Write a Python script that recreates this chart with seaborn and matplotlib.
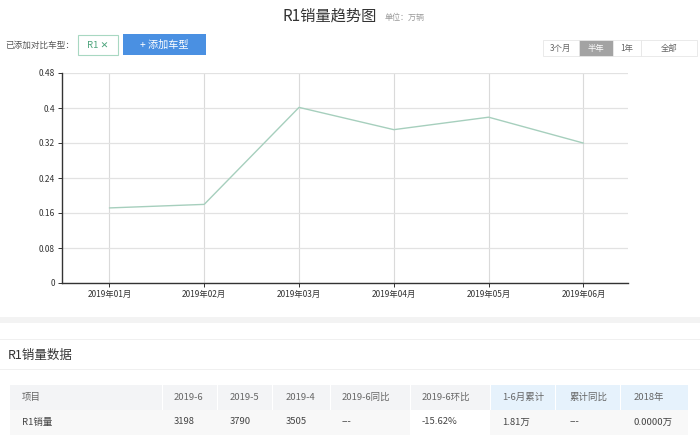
import matplotlib
matplotlib.use("Agg")
import matplotlib.pyplot as plt
import seaborn as sns
import pandas as pd
from matplotlib.patches import Rectangle

# ---- data ----
months = ["2019年01月", "2019年02月", "2019年03月", "2019年04月", "2019年05月", "2019年06月"]
sales = [0.1716, 0.1797, 0.4014, 0.3505, 0.3790, 0.3198]
yticks = [0, 0.08, 0.16, 0.24, 0.32, 0.4, 0.48]
ytick_labels = ["0", "0.08", "0.16", "0.24", "0.32", "0.4", "0.48"]
table_header = ["项目", "2019-6", "2019-5", "2019-4", "2019-6同比", "2019-6环比", "1-6月累计", "累计同比", "2018年"]
table_row = ["R1销量", "3198", "3790", "3505", "---", "-15.62%", "1.81万", "---", "0.0000万"]
range_buttons = ["3个月", "半年", "1年", "全部"]

sns.set_theme(style="white")
FAM = ["Noto Sans CJK SC", "DejaVu Sans"]
plt.rcParams["font.family"] = FAM

W, H = 700, 438
fig = plt.figure(figsize=(7, 4.38), dpi=100)
fig.patch.set_facecolor("white")

def fx(x):
    return x / W

def fy(y):
    return 1 - y / H

def rect(x0, y0, x1, y1, fc, ec="none", lw=0.8):
    fig.patches.append(Rectangle((fx(x0), fy(y1)), fx(x1) - fx(x0), fy(y0) - fy(y1),
                                 transform=fig.transFigure, facecolor=fc, edgecolor=ec,
                                 linewidth=lw, zorder=0))

def txt(x, y, s, size, color, ha="left", va="center", weight="normal"):
    fig.text(fx(x), fy(y), s, fontsize=size, color=color, ha=ha, va=va,
             family=FAM, weight=weight)

# ---- header ----
txt(283, 16, "R1销量趋势图", 11, "#333333")
txt(385, 17, "单位：万辆", 5.8, "#999999")
txt(5, 45, "已添加对比车型：", 6.2, "#555555")
rect(78, 35, 118, 55, "white", ec="#a8d8c2", lw=0.8)
txt(98, 45, "R1 ✕", 6.8, "#4aa37a", ha="center")
rect(123, 34, 206, 55, "#4a90e2")
txt(164.5, 44.5, "+ 添加车型", 7.3, "white", ha="center")

bx = [543, 579, 613, 641, 697]
for i, lab in enumerate(range_buttons):
    if i == 1:
        rect(bx[i], 40, bx[i + 1], 56, "#a3a3a3", ec="#e6e6e6", lw=0.6)
        c = "white"
    else:
        rect(bx[i], 40, bx[i + 1], 56, "white", ec="#e6e6e6", lw=0.6)
        c = "#666666"
    txt((bx[i] + bx[i + 1]) / 2, 48, lab, 6, c, ha="center")

# ---- chart ----
ax = fig.add_axes([fx(62), fy(283), fx(628) - fx(62), fy(73) - fy(283)])
df = pd.DataFrame({"month": months, "sales": sales, "x": range(len(months))})
sns.lineplot(data=df, x="x", y="sales", ax=ax, color="#a6cfbd", linewidth=1.0)
ax.set_xlim(-0.5, 5.47)
ax.set_ylim(0, 0.48)
ax.set_xticks(range(len(months)))
ax.set_xticklabels(months)
ax.set_yticks(yticks)
ax.set_yticklabels(ytick_labels)
ax.set_xlabel("")
ax.set_ylabel("")
ax.grid(True, axis="y", color="#e2e2e2", linewidth=0.9)
ax.grid(True, axis="x", color="#dadada", linewidth=0.8)
ax.set_axisbelow(True)
for s in ["top", "right"]:
    ax.spines[s].set_visible(False)
for s in ["left", "bottom"]:
    ax.spines[s].set_color("#333333")
    ax.spines[s].set_linewidth(1.0)
ax.tick_params(axis="both", which="both", length=3, width=0.7, color="#333333",
               labelsize=6, labelcolor="#333333", pad=2, bottom=True, left=True)
for t in ax.get_xticklabels() + ax.get_yticklabels():
    t.set_family(FAM)

# ---- bottom data section ----
rect(0, 317, 700, 323, "#f3f3f3")
rect(0, 339, 700, 340, "#f0f0f0")
txt(8, 355, "R1销量数据", 9, "#333333")
rect(0, 369, 700, 370, "#f0f0f0")

cols = [10, 162, 217, 272, 330, 410, 490, 555, 620, 688]
tx = [22, 174, 230, 286, 342, 422, 502, 570, 634]
for i in range(len(table_header)):
    hc = "#e6f2fc" if i >= 6 else "#f3f4f6"
    rect(cols[i], 385, cols[i + 1], 410, hc)
    rc = "white" if i == 5 else "#f8f8f8"
    rect(cols[i], 410, cols[i + 1], 435, rc)
    txt(tx[i], 397.5, table_header[i], 6.8, "#666666")
    txt(tx[i], 422, table_row[i], 6.8, "#444444")
# column separators
for c in cols[1:-1]:
    rect(c, 385, c + 1, 410, "#ffffff")

fig.savefig("out.png", dpi=100)
